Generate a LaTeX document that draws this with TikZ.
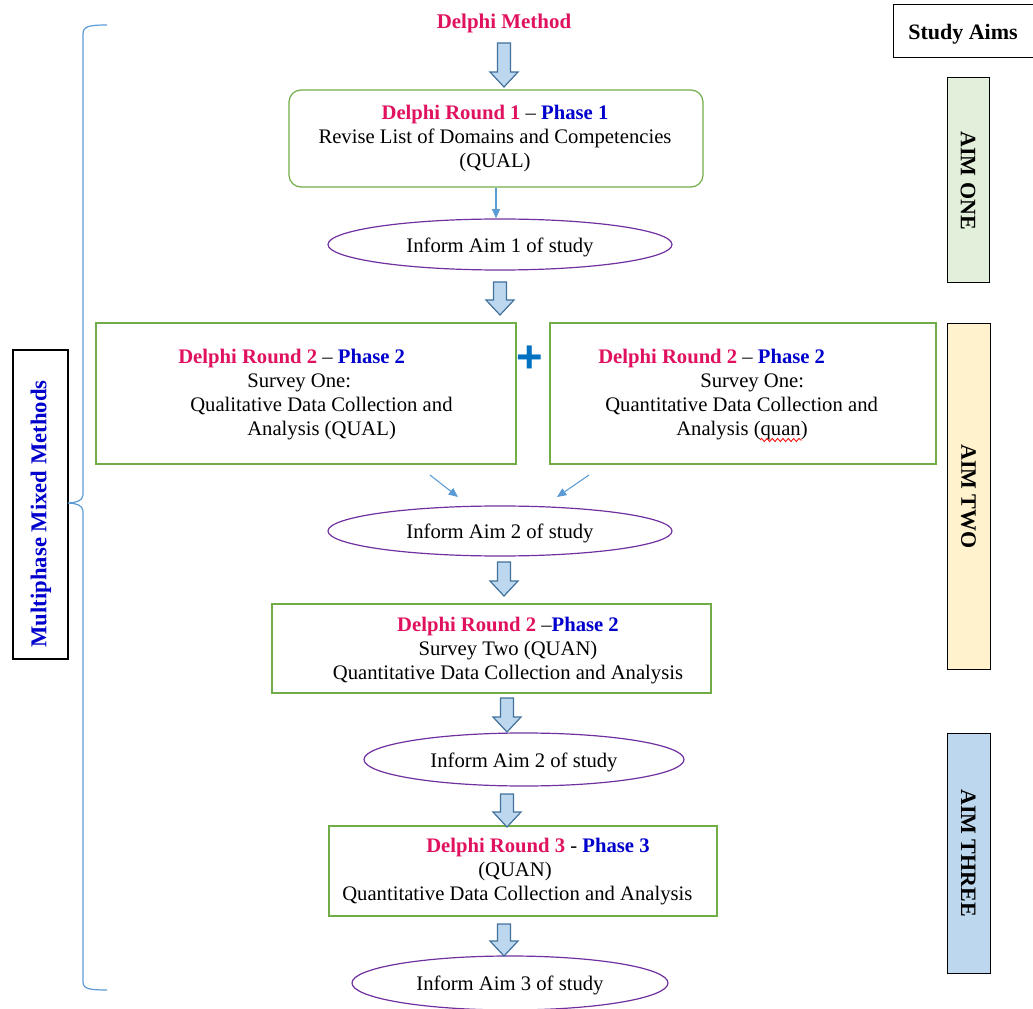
\documentclass[tikz,border=0pt]{standalone}
\usepackage{fontspec}
\setmainfont{Liberation Serif}
\newfontfamily\plusfont{Liberation Sans}
\usetikzlibrary{shapes.geometric,arrows.meta,decorations.pathmorphing}
\definecolor{dred}{HTML}{E0115F}
\definecolor{dblue}{HTML}{0000CC}
\definecolor{boxgreen}{HTML}{70AD47}
\definecolor{ellpurple}{HTML}{7030A0}
\definecolor{arrfill}{HTML}{BDD7EE}
\definecolor{arrline}{HTML}{41719C}
\definecolor{thinblue}{HTML}{5B9BD5}
\definecolor{aimone}{HTML}{E2EFDA}
\definecolor{aimtwo}{HTML}{FFF2CC}
\definecolor{aimthree}{HTML}{BDD7EE}
\definecolor{plusblue}{HTML}{0070C0}
\newdimen\pxu \pxu=0.75pt
\newcommand\delphitxt[1]{\textcolor{dred}{\bfseries #1}}
\newcommand\phasetxt[1]{\textcolor{dblue}{\bfseries #1}}
\newcommand\blockarrow[3]{\draw[barrow] (#1-6.5,#2) -- (#1+6.5,#2) -- (#1+6.5,#3-15) -- (#1+14,#3-15) -- (#1,#3) -- (#1-14,#3-15) -- (#1-6.5,#3-15) -- cycle;}
\tikzset{
  gbox/.style={draw=boxgreen, line width=0.9pt, inner sep=0pt},
  txt/.style={inner sep=0pt, yshift=-2.2pt},
  ell/.style={ellipse, draw=ellpurple, line width=0.9pt, inner sep=0pt},
  barrow/.style={draw=arrline, fill=arrfill, line width=0.9pt, line join=miter},
  thinarrow/.style={draw=thinblue, line width=0.8pt, -{Triangle[length=7pt,width=6pt]}},
  aimbox/.style={draw=black, line width=0.75pt, inner sep=0pt, rotate=-90, font=\fontsize{16.5}{19}\selectfont\bfseries},
  brace/.style={draw=thinblue, line width=0.9pt}
}
\begin{document}
\begin{tikzpicture}[x=0.75pt, y=-0.75pt, font=\fontsize{15.5}{18}\selectfont]
\useasboundingbox (0,0) rectangle (1033,1009);

% title
\node[txt, font=\fontsize{15.7}{18}\selectfont\bfseries, text=dred] (title) at (504,21) {Delphi Method};

% box 1
\node[gbox, rounded corners=9pt, minimum width=414\pxu, minimum height=97\pxu] (b1) at (496,138.5) {};
\node[txt, align=center] (t1) at (495,136) {\delphitxt{Delphi Round 1} – \phasetxt{Phase 1}\\Revise List of Domains and Competencies\\(QUAL)};
\node[ell, minimum width=344\pxu, minimum height=51\pxu] (e1) at (500,244.5) {};
\node[txt] (e1t) at (500,244.5) {Inform Aim 1 of study};

% box 2 left / right
\node[gbox, minimum width=420\pxu, minimum height=141\pxu] (b2l) at (306,393.5) {};
\node[txt, anchor=west, align=left] (t2l) at (178,392) {\delphitxt{Delphi Round 2} – \phasetxt{Phase 2}\\\hspace*{69\pxu}Survey One:\\\hspace*{12\pxu}Qualitative Data Collection and\\\hspace*{69\pxu}Analysis (QUAL)};
\node[gbox, minimum width=386\pxu, minimum height=141\pxu] (b2r) at (743,393.5) {};
\node[txt, anchor=west, align=left] (t2r) at (598,392) {\delphitxt{Delphi Round 2} – \phasetxt{Phase 2}\\\hspace*{102\pxu}Survey One:\\\hspace*{7\pxu}Quantitative Data Collection and\\\hspace*{78\pxu}Analysis (quan)};
\node[inner sep=0pt, font=\plusfont\fontsize{34}{34}\selectfont\bfseries, text=plusblue] (plus) at (530,359) {+};
\draw[red, line width=0.6pt, decorate, decoration={snake, amplitude=1.2pt, segment length=4pt}] (760,440) -- (802,440);

\node[ell, minimum width=344\pxu, minimum height=50\pxu] (e2) at (500,531) {};
\node[txt] (e2t) at (500,531) {Inform Aim 2 of study};
\coordinate (a2ls) at (430,475);
\coordinate (a2le) at (458,497);
\coordinate (a2rs) at (589,475);
\coordinate (a2re) at (557,497);
\draw[thinarrow] (a2ls) -- (a2le);
\draw[thinarrow] (a2rs) -- (a2re);

% box 3
\node[gbox, minimum width=439\pxu, minimum height=89\pxu] (b3) at (491.5,648.5) {};
\node[txt, align=center] (t3) at (508,648) {\delphitxt{Delphi Round 2} –\phasetxt{Phase 2}\\Survey Two (QUAN)\\Quantitative Data Collection and Analysis};
\node[ell, minimum width=320\pxu, minimum height=53\pxu] (e3) at (524,759.5) {};
\node[txt] (e3t) at (524,759.5) {Inform Aim 2 of study};

% box 4
\node[gbox, minimum width=388\pxu, minimum height=90\pxu] (b4) at (523,871) {};
\node[txt, anchor=west, align=left] (t4) at (342,869) {\hspace*{84\pxu}\delphitxt{Delphi Round 3} - \phasetxt{Phase 3}\\\hspace*{136\pxu}(QUAN)\\Quantitative Data Collection and Analysis};
\node[ell, minimum width=316\pxu, minimum height=54\pxu] (e4) at (510,983) {};
\node[txt] (e4t) at (510,983) {Inform Aim 3 of study};

% connectors
\draw[thinarrow] (b1.south) -- (b1.south |- e1.north);
\blockarrow{504}{43}{87}
\blockarrow{500}{282}{315}
\blockarrow{504}{562}{596}
\blockarrow{507}{698}{732}
\blockarrow{507}{794}{827}
\blockarrow{504}{924}{956}

% study aims
\node[draw=black, line width=0.75pt, inner sep=0pt, minimum width=143\pxu, minimum height=53\pxu] (sa) at (964.5,31.5) {};
\node[txt, font=\fontsize{16.5}{19}\selectfont\bfseries] (satxt) at (963,31) {Study Aims};
\node[aimbox, fill=aimone, minimum width=205\pxu, minimum height=42\pxu] (aim1) at (968,180.5) {AIM ONE};
\node[aimbox, fill=aimtwo, minimum width=345\pxu, minimum height=43\pxu] (aim2) at (968.5,496.5) {AIM TWO};
\node[aimbox, fill=aimthree, minimum width=240\pxu, minimum height=43\pxu] (aim3) at (968.5,853) {AIM THREE};

% multiphase
\node[draw=black, line width=1.1pt, inner sep=0pt, minimum width=55\pxu, minimum height=309\pxu] (mm) at (40.5,504.5) {};
\node[inner sep=0pt, rotate=90, font=\fontsize{17}{19}\selectfont\bfseries, text=dblue] (mmt) at (41,514) {Multiphase Mixed Methods};
\coordinate (tip) at (68,503);
\draw[brace] (107,25) .. controls (90,25) and (83,26) .. (83,34) -- (83,495) .. controls (83,501) and (75,503) .. (tip) .. controls (75,503) and (83,505) .. (83,511) -- (83,982) .. controls (83,989) and (90,990) .. (107,990);
\end{tikzpicture}
\end{document}
